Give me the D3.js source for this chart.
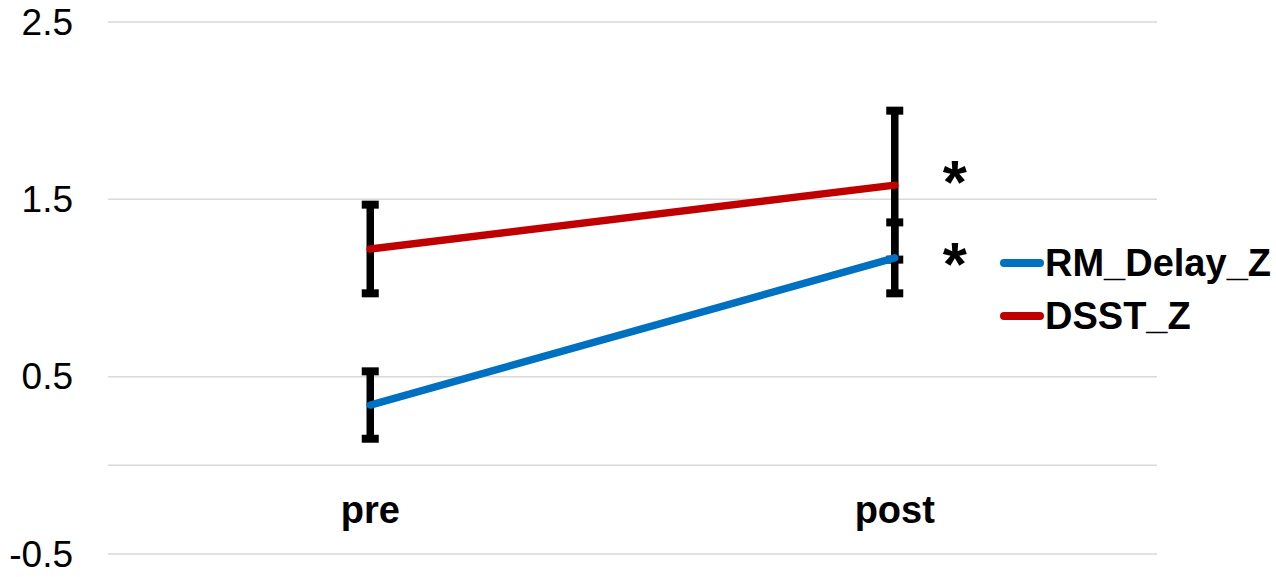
<!DOCTYPE html>
<html>
<head>
<meta charset="utf-8">
<script src="https://cdn.jsdelivr.net/npm/d3@7"></script>
<style>
  html, body { margin: 0; padding: 0; background: #ffffff; }
  svg { display: block; }
  text { font-family: "Liberation Sans", Arial, sans-serif; }
</style>
</head>
<body>
<svg id="chart" width="1276" height="577"></svg>
<script>
const categories = ["pre", "post"];
const seriesNames = ["RM_Delay_Z", "DSST_Z"];
const rmDelayValues = [0.34, 1.17];
const rmDelayErrors = [0.19, 0.20];
const dsstValues = [1.22, 1.58];
const dsstErrors = [0.25, 0.42];
const seriesColors = ["#0070C0", "#C00000"];
const gridTicks = [-0.5, 0, 0.5, 1.5, 2.5];
const labelTicks = [-0.5, 0.5, 1.5, 2.5];
const significance = ["*", "*"];

const series = [
  { name: seriesNames[0], values: rmDelayValues, errors: rmDelayErrors, color: seriesColors[0] },
  { name: seriesNames[1], values: dsstValues, errors: dsstErrors, color: seriesColors[1] }
];

const svg = d3.select("#chart");
const plotLeft = 108, plotRight = 1157, plotTop = 22, plotBottom = 554;

const x = d3.scalePoint().domain(categories).range([plotLeft, plotRight]).padding(0.5);
const y = d3.scaleLinear().domain([-0.5, 2.5]).range([plotBottom, plotTop]);

// gridlines
svg.append("g").selectAll("line").data(gridTicks).join("line")
  .attr("x1", plotLeft).attr("x2", plotRight)
  .attr("y1", d => y(d)).attr("y2", d => y(d))
  .attr("stroke", "#d9d9d9").attr("stroke-width", 1.5);

// y labels
svg.append("g").selectAll("text").data(labelTicks).join("text")
  .attr("x", 73).attr("y", d => y(d))
  .attr("text-anchor", "end").attr("dominant-baseline", "central")
  .attr("font-size", 37).attr("fill", "#000")
  .text(d => d.toFixed(1));

// category labels
svg.append("g").selectAll("text").data(categories).join("text")
  .attr("x", d => x(d)).attr("y", 523)
  .attr("text-anchor", "middle")
  .attr("font-size", 38).attr("font-weight", "bold").attr("fill", "#000")
  .text(d => d);

// error bars
const capW = 17, capH = 8, barW = 7.5;
series.forEach(s => {
  const g = svg.append("g");
  categories.forEach((c, i) => {
    const cx = x(c);
    const hi = y(s.values[i] + s.errors[i]);
    const lo = y(s.values[i] - s.errors[i]);
    g.append("line").attr("x1", cx).attr("x2", cx).attr("y1", hi).attr("y2", lo)
      .attr("stroke", "#000").attr("stroke-width", barW);
    g.append("rect").attr("x", cx - capW / 2).attr("y", hi - capH / 2)
      .attr("width", capW).attr("height", capH).attr("fill", "#000");
    g.append("rect").attr("x", cx - capW / 2).attr("y", lo - capH / 2)
      .attr("width", capW).attr("height", capH).attr("fill", "#000");
  });
});

// lines
const line = d3.line().x((d, i) => x(categories[i])).y(d => y(d));
series.forEach(s => {
  svg.append("path").datum(s.values)
    .attr("d", line).attr("fill", "none")
    .attr("stroke", s.color).attr("stroke-width", 7.5)
    .attr("stroke-linecap", "round");
});

// significance stars next to post values
const starX = x("post") + 60;
const starYs = [y(dsstValues[1]) - 21, y(rmDelayValues[1]) - 11];
svg.append("g").selectAll("text").data(starYs).join("text")
  .attr("x", starX).attr("y", d => d)
  .attr("text-anchor", "middle")
  .attr("font-size", 62).attr("font-weight", "bold").attr("fill", "#000")
  .attr("dy", "0.62em")
  .text((d, i) => significance[i]);

// legend
const legend = svg.append("g");
series.forEach((s, i) => {
  const ly = 263 + i * 53;
  legend.append("line").attr("x1", 1004).attr("x2", 1040).attr("y1", ly).attr("y2", ly)
    .attr("stroke", s.color).attr("stroke-width", 8).attr("stroke-linecap", "round");
  legend.append("text").attr("x", 1045).attr("y", ly)
    .attr("dominant-baseline", "central")
    .attr("font-size", 38).attr("font-weight", "bold").attr("fill", "#000")
    .text(s.name);
});
</script>
</body>
</html>
